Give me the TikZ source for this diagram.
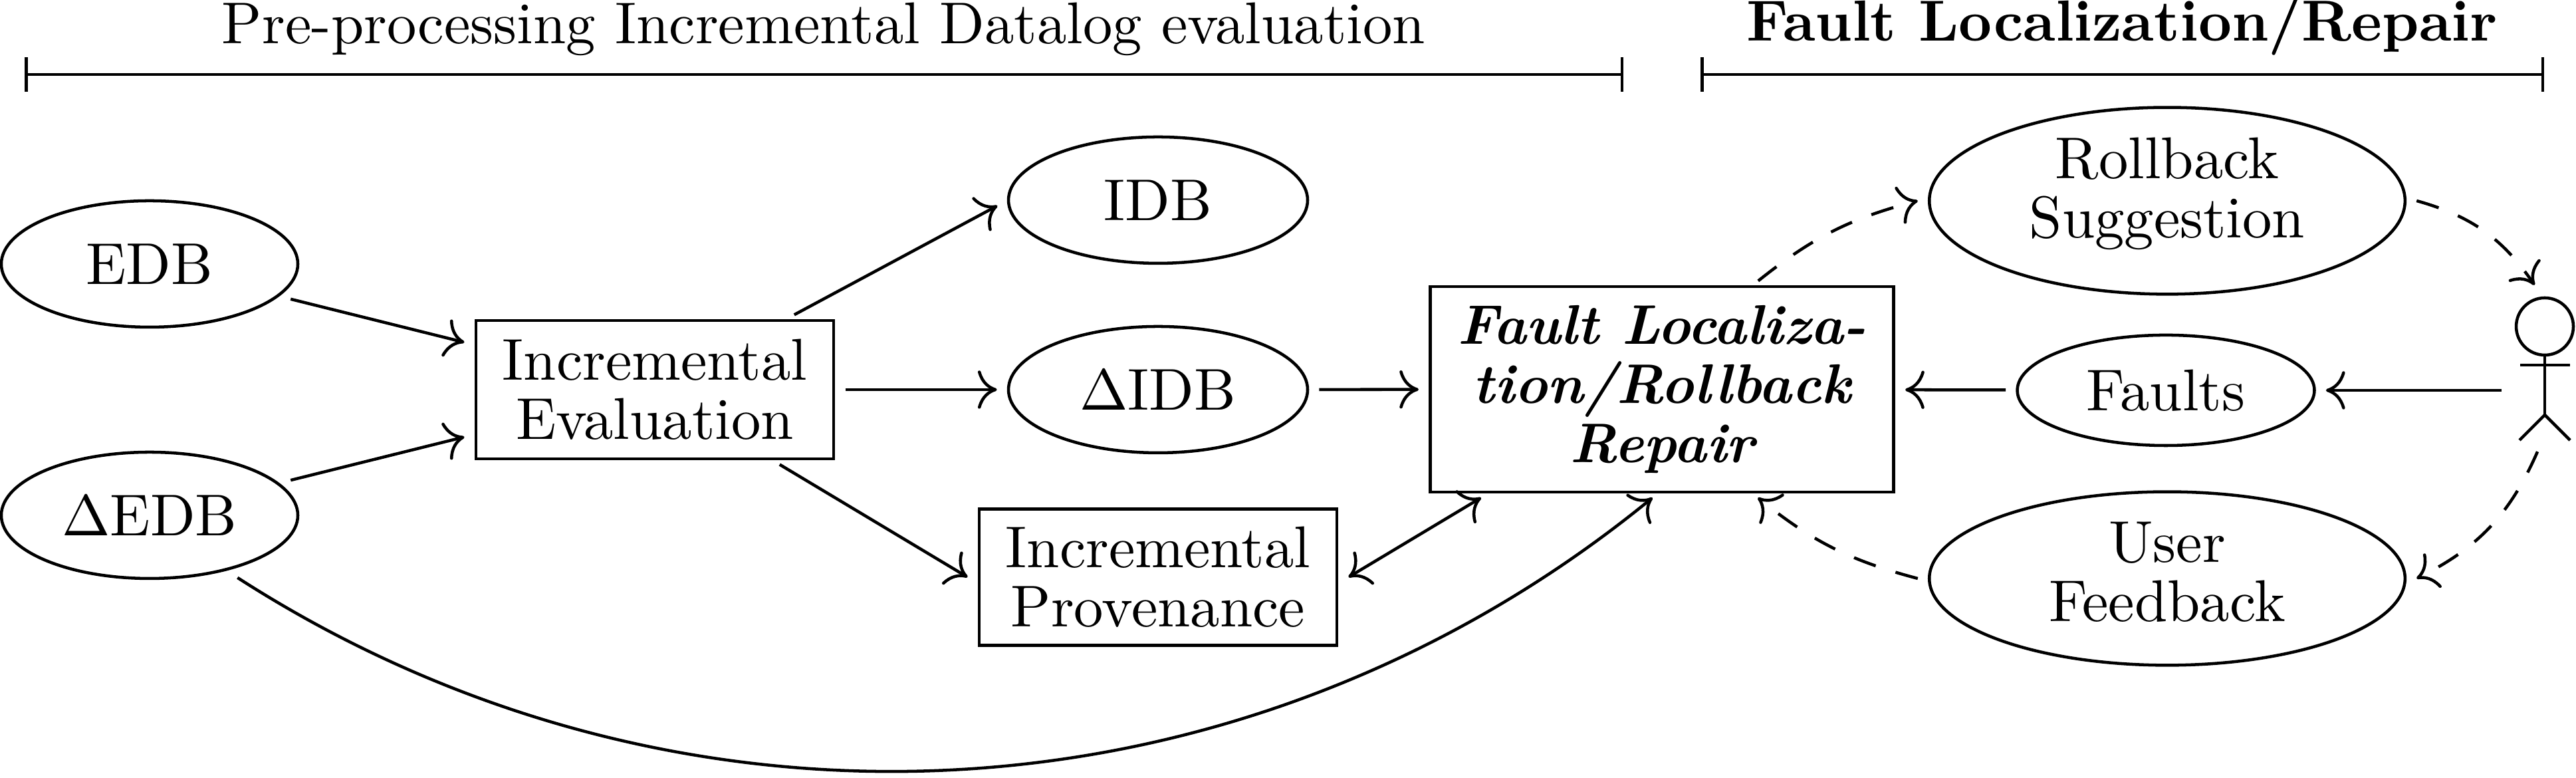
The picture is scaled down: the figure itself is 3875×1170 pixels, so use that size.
\documentclass[tikz,border=0pt]{standalone}
\usetikzlibrary{arrows.meta,shapes.geometric}
\tikzset{
  base/.style={line width=.52pt,black},
  nodetext/.style={align=center,inner sep=0pt,outer sep=2pt,font=\fontsize{10.2}{10.2}\selectfont},
  oval/.style={base,draw,ellipse,nodetext},
  box/.style={base,draw,rectangle,nodetext,outer ysep=1pt},
  conn/.style={base,-{Computer Modern Rightarrow[width=6.6pt,length=3.3pt]}},
  dconn/.style={conn,dash pattern=on 4pt off 3.6pt},
  biconn/.style={base,{Computer Modern Rightarrow[width=6.6pt,length=3.3pt]}-{Computer Modern Rightarrow[width=6.6pt,length=3.3pt]}},
  brace/.style={base,{Bar[width=6pt]}-{Bar[width=6pt]}},
  head/.style={anchor=base,inner sep=0pt,font=\fontsize{10.2}{12}\selectfont},
}
\begin{document}
\begin{tikzpicture}[x=.115pt,y=.115pt]
\useasboundingbox (0,0) rectangle (3875,1170);
% headers
\node[head] (hl) at (1239,1104) {Pre-processing Incremental Datalog evaluation};
\node[head,font=\fontsize{10}{12}\selectfont] (hr) at (3192,1108) {\bfseries Fault Localization/Repair};
\coordinate (hla) at (37,1058);
\coordinate (hlb) at (2442,1058);
\coordinate (hra) at (2558,1058);
\coordinate (hrb) at (3827,1058);
\draw[brace] (hla) -- (hlb);
\draw[brace] (hra) -- (hrb);
% nodes
\node[oval,minimum width=51.3pt,minimum height=21.85pt] (edb) at (225,773) {EDB};
\node[oval,minimum width=51.3pt,minimum height=21.85pt] (dedb) at (225,395) {$\Delta$EDB};
\node[box,minimum width=61.9pt,minimum height=23.9pt] (ie) at (985,584) {Incremental\\Evaluation};
\node[oval,minimum width=51.75pt,minimum height=21.85pt] (idb) at (1742,869) {IDB};
\node[oval,minimum width=51.75pt,minimum height=21.85pt] (didb) at (1742,584) {$\Delta$IDB};
\node[box,minimum width=61.9pt,minimum height=23.6pt] (prov) at (1742,302) {Incremental\\Provenance};
\node[box,minimum width=80.2pt,minimum height=35.5pt,font=\fontsize{9.65}{10.2}\selectfont] (fl) at (2500,584.5) {\bfseries\itshape Fault Localiza-\\\bfseries\itshape tion/Rollback\\\bfseries\itshape Repair};
\node[oval,minimum width=82.3pt,minimum height=32.3pt,text depth=4.6pt] (roll) at (3260,868) {Rollback\\Suggestion};
\node[oval,minimum width=51.4pt,minimum height=19.1pt] (faults) at (3258,583) {Faults};
\node[oval,minimum width=82.3pt,minimum height=30pt,text depth=2.3pt] (uf) at (3260,300) {User\\Feedback};
\node[inner sep=0pt,outer sep=2pt,minimum width=11pt,minimum height=24.8pt] (actor) at (3828,616) {};
% stick figure
\draw[base] (3828,679) circle[radius=43];
\draw[base] (3828,636) -- (3828,546);
\draw[base] (3791,621) -- (3866,621);
\draw[base] (3790,508) -- (3828,546) -- (3866,508);
% connectors
\draw[conn] (edb) -- (ie);
\draw[conn] (dedb) -- (ie);
\draw[conn] (ie) -- (idb.182);
\draw[conn] (ie) -- (didb);
\draw[conn] (ie) -- (prov.west);
\draw[conn] (didb) -- (fl);
\draw[biconn] (prov.east) -- (fl);
\draw[conn] (dedb) to[bend right=36,looseness=.95] (fl.-95);
\draw[dconn] (fl) to[bend left=12] (roll.west);
\draw[dconn] (roll.east) to[bend left=20] (actor.97);
\draw[conn] (actor.west |- faults) -- (faults);
\draw[conn] (faults) -- (fl);
\draw[dconn] (actor.-95) to[bend left=20] (uf.east);
\draw[dconn] (uf.west) to[bend left=12] (fl);
\end{tikzpicture}
\end{document}
